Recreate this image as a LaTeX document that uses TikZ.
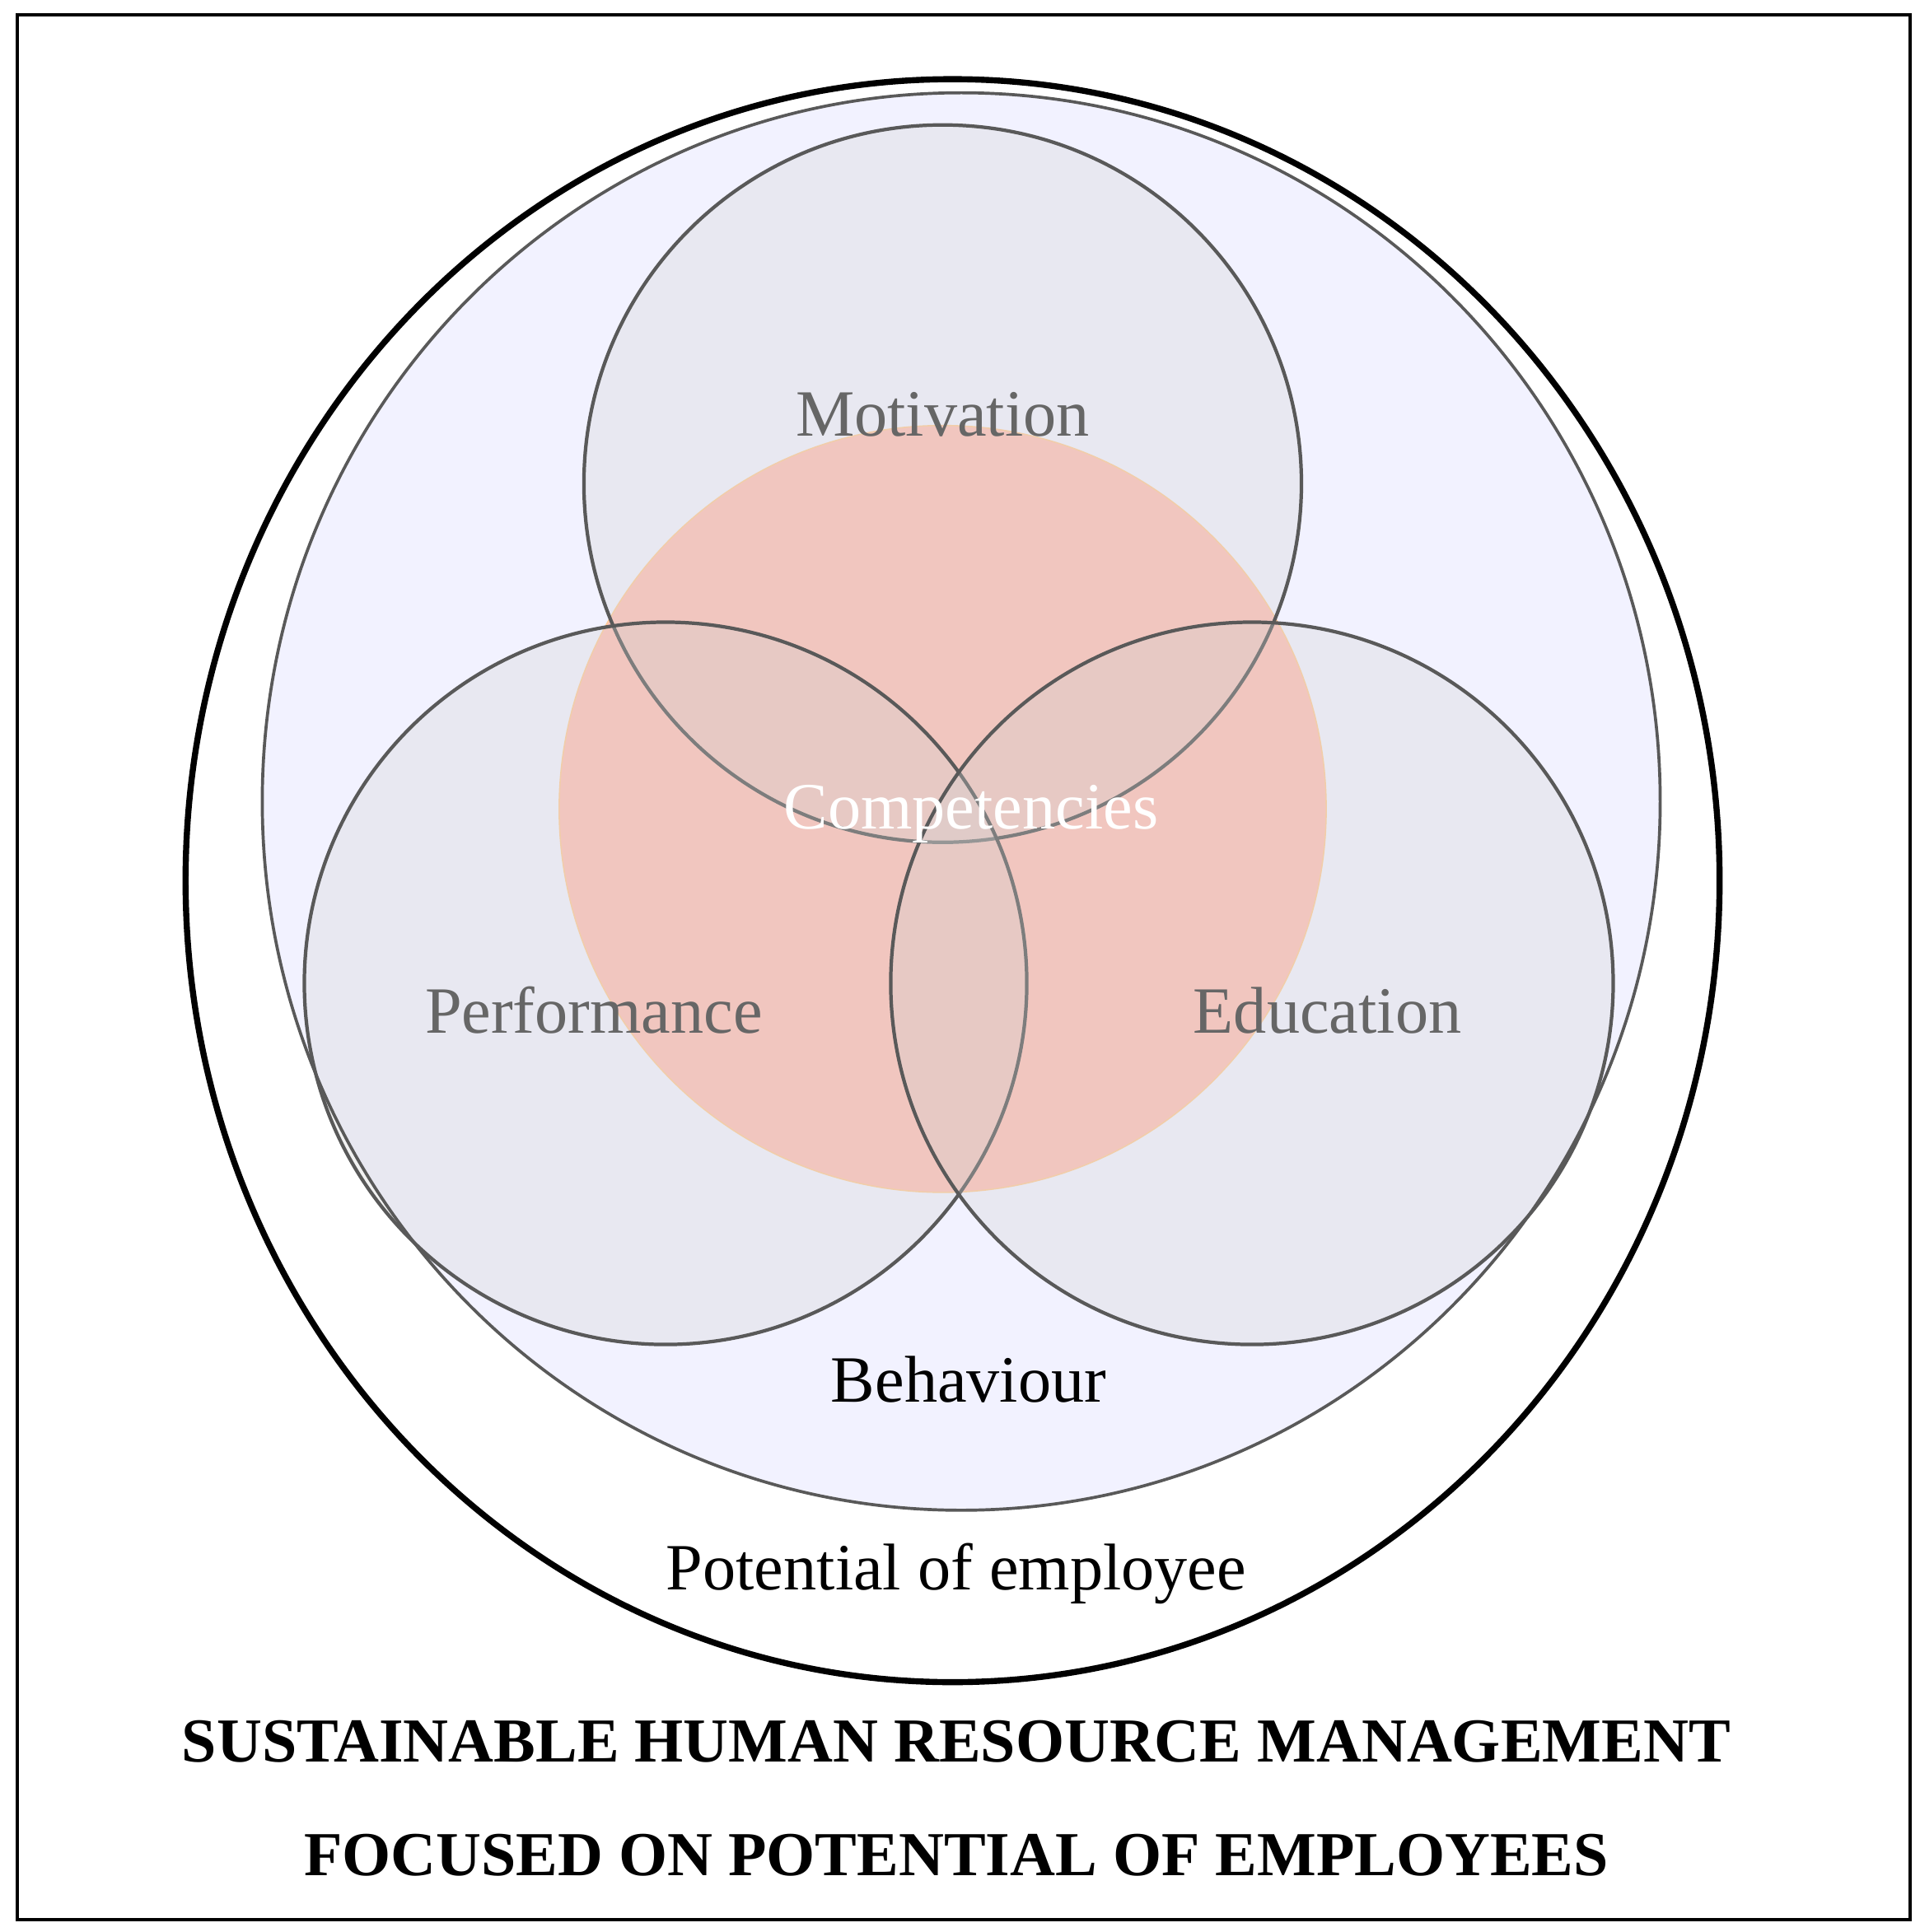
\documentclass[tikz,border=0pt]{standalone}
\usepackage{fontspec}
\setmainfont{Liberation Serif}
\begin{document}
\begin{tikzpicture}[x=0.05cm,y=-0.05cm,
  bubble/.style={draw=black!65,line width=4pt,fill=gray!35,fill opacity=0.3},
  lbl/.style={font=\fontsize{76}{86}\selectfont,text=black!60},
  ttl/.style={font=\fontsize{72}{82}\selectfont\bfseries}]
\useasboundingbox (0,0) rectangle (1552,1562);
\fill[white] (0,0) rectangle (1552,1562);
\draw[line width=3pt] (14,12) rectangle (1544,1552);
\fill[blue!5!white] (777,648) ellipse [x radius=565,y radius=573];
\fill[orange!30!red!28!white, draw=orange!40, line width=1.5pt] (762,654) circle (310);
\draw[bubble] (762,391) circle (290);
\draw[bubble] (538,795) circle (292);
\draw[bubble] (1012,795) circle (292);
\draw[black!65,line width=3.5pt] (777,648) ellipse [x radius=565,y radius=573];
\draw[line width=7pt] (770,712) ellipse [x radius=620,y radius=648];
\node[lbl] (mot) at (762,335) {Motivation};
\node[lbl,text=white] (comp) at (785,658) {Competencies};
\node[lbl] (perf) at (480,817) {Performance};
\node[lbl] (edu) at (1073,817) {Education};
\node[lbl,text=black] (beh) at (783,1115) {Behaviour};
\node[lbl,text=black] (pot) at (773,1272) {Potential of employee};
\node[ttl] (t1) at (773,1408) {SUSTAINABLE HUMAN RESOURCE MANAGEMENT};
\node[ttl] (t2) at (773,1500) {FOCUSED ON POTENTIAL OF EMPLOYEES};
\end{tikzpicture}
\end{document}
